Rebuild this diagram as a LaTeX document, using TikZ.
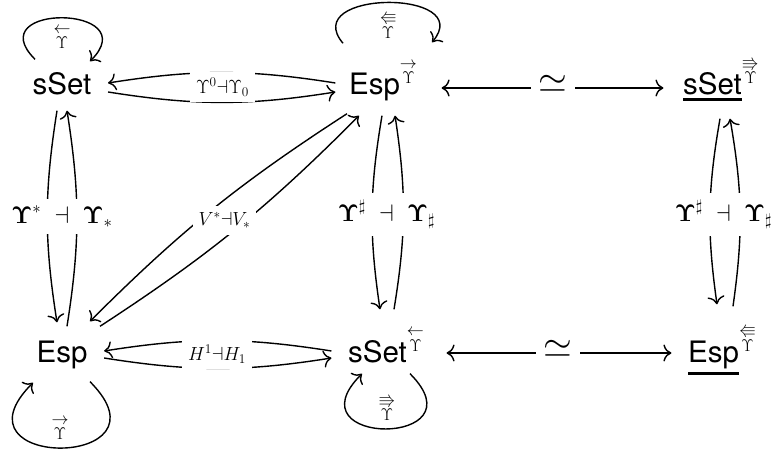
\RequirePackage{fix-cm}
\documentclass[tikz,border=0pt]{standalone}
\usepackage{amsmath,amssymb}
\usepackage{fontspec}
\setsansfont{TeX Gyre Heros}
\usetikzlibrary{arrows.meta,calc}

\newcommand{\ovup}[1]{\overset{\textstyle#1}{\Upsilon}}
\newcommand{\catsup}[1]{\raisebox{11bp}{\fontsize{17bp}{17bp}\selectfont$\ovup{#1}$}}
\newcommand{\ulcat}[2]{\setbox0\hbox{#1}\rlap{\rule[#2]{\wd0}{3bp}}\box0}

\begin{document}
\begin{tikzpicture}[x=1bp, y=-1bp, line width=1.4bp,
  >={Computer Modern Rightarrow[length=8bp,width=17bp]},
  cat/.style={font=\fontsize{29.5bp}{35bp}\sffamily, inner sep=0pt,
    text height=22bp, text depth=6bp},
  adj/.style={->, bend right=9},
  adjh/.style={->, bend right=9},
  adjd/.style={->, bend right=6},
  eqv/.style={<->},
  adjlbl/.style={fill=white, inner sep=6bp, font=\fontsize{19bp}{22bp}\selectfont},
  biglbl/.style={fill=white, inner sep=7bp, font=\fontsize{24bp}{28bp}\selectfont},
  simlbl/.style={fill=white, inner sep=8bp, font=\fontsize{37bp}{40bp}\selectfont},
  looplbl/.style={inner sep=0pt, font=\fontsize{17bp}{20bp}\selectfont}]
  \useasboundingbox (0,0) rectangle (772,450);

  %% Categories, top row
  \node[cat] (sset)  at (62,87)  {sSet};
  \node[cat] (espT)  at (383,87) {Esp\catsup{\rightarrow}};
  \node[cat] (ssetR) at (721,87) {\ulcat{sSet}{-6bp}\catsup{\Rrightarrow}};
  %% Categories, bottom row
  \node[cat] (espB)  at (62,354)  {Esp};
  \node[cat] (ssetB) at (386,354) {sSet\catsup{\leftarrow}};
  \node[cat] (espR)  at (722,354) {\ulcat{Esp}{-13bp}\catsup{\Lleftarrow}};

  %% Horizontal adjunctions
  \draw[adjh] ([xshift=-13bp,yshift=4bp]espT.west) to ([xshift=16bp,yshift=4bp]sset.east);
  \draw[adjh] ([xshift=16bp,yshift=-5bp]sset.east) to ([xshift=-13bp,yshift=-5bp]espT.west);
  \draw[adjh] ([xshift=-16bp,yshift=3bp]ssetB.west) to ([xshift=16bp,yshift=3bp]espB.east);
  \draw[adjh] ([xshift=16bp,yshift=-4bp]espB.east) to ([xshift=-16bp,yshift=-4bp]ssetB.west);

  %% Vertical adjunctions
  \draw[adj] ([xshift=5bp,yshift=13bp]espB.north) to ([xshift=5bp,yshift=-9bp]sset.south);
  \draw[adj] ([xshift=-5bp,yshift=-9bp]sset.south) to ([xshift=-5bp,yshift=17bp]espB.north);
  \draw[adj] ([xshift=8bp,yshift=30bp]ssetB.north) to ([xshift=12bp,yshift=-14bp]espT.south);
  \draw[adj] ([xshift=-1bp,yshift=-14bp]espT.south) to ([xshift=-6bp,yshift=30bp]ssetB.north);
  \draw[adj] ([xshift=11bp,yshift=33bp]espR.north) to ([xshift=9bp,yshift=-17bp]ssetR.south);
  \draw[adj] ([xshift=-1bp,yshift=-17bp]ssetR.south) to ([xshift=-5bp,yshift=35bp]espR.north);

  %% Diagonal adjunction
  \draw[adjd] ([xshift=-36bp,yshift=-12bp]espT.south) to ([xshift=28bp,yshift=18bp]espB.north);
  \draw[adjd] ([xshift=38bp,yshift=13bp]espB.north) to ([xshift=-24bp,yshift=-14bp]espT.south);

  %% Equivalences
  \draw[eqv] ([xshift=24bp,yshift=-1bp]espT.east) -- ([xshift=-19bp,yshift=-1bp]ssetR.west);
  \draw[eqv] ([xshift=22bp,yshift=1bp]ssetB.east) -- ([xshift=-16bp,yshift=1bp]espR.west);

  %% Loops
  \draw[->] ([xshift=-27bp,yshift=13bp]sset.north) to[out=135,in=45,distance=80bp]
    ([xshift=28bp,yshift=11bp]sset.north);
  \draw[->] ([xshift=-40bp,yshift=29bp]espT.north) to[out=130,in=50,distance=70bp]
    ([xshift=49bp,yshift=30bp]espT.north);
  \draw[->] ([xshift=28bp,yshift=-13bp]espB.south) to[out=-45,in=-135,distance=124bp]
    ([xshift=-29bp,yshift=-14bp]espB.south);
  \draw[->] ([xshift=24bp,yshift=-5bp]ssetB.south) to[out=-45,in=-135,distance=104bp]
    ([xshift=-24bp,yshift=-5bp]ssetB.south);

  %% Labels
  \node[adjlbl] (lblT) at ($(sset)!.5!(espT)$) {$\Upsilon^0{\dashv}\Upsilon_0$};
  \node[adjlbl] (lblB) at ([xshift=-7bp]$(espB)!.5!(ssetB)$) {$H^1{\dashv}H_1$};
  \node[adjlbl] (lblD) at ([xshift=2bp]$(espB)!.5!(espT)$) {$V^*{\dashv}V_*$};
  \node[biglbl] (lblL) at ([yshift=4bp]$(sset)!.5!(espB)$)
    {$\boldsymbol{\Upsilon}^{*}\mathrel{\;\dashv\;}\boldsymbol{\Upsilon}_{*}$};
  \node[biglbl] (lblM) at ([xshift=2bp,yshift=6bp]$(espT)!.5!(ssetB)$)
    {$\boldsymbol{\Upsilon}^{\sharp}\mathrel{\;\dashv\;}\boldsymbol{\Upsilon}_{\sharp}$};
  \node[biglbl] (lblR) at ([xshift=2bp,yshift=6bp]$(ssetR)!.5!(espR)$)
    {$\boldsymbol{\Upsilon}^{\sharp}\mathrel{\;\dashv\;}\boldsymbol{\Upsilon}_{\sharp}$};
  \node[simlbl] (simT) at ([xshift=3bp,yshift=3bp]$(espT.east)!.5!(ssetR.west)$) {$\simeq$};
  \node[simlbl] (simB) at ([xshift=2bp,yshift=5bp]$(ssetB.east)!.5!(espR.west)$) {$\simeq$};
  \node[looplbl] (lpA) at ([yshift=35bp]sset.north) {$\ovup{\leftarrow}$};
  \node[looplbl] (lpB) at ([xshift=5bp,yshift=48bp]espT.north) {$\ovup{\Lleftarrow}$};
  \node[looplbl] (lpC) at ([xshift=-2bp,yshift=-59bp]espB.south) {$\ovup{\rightarrow}$};
  \node[looplbl] (lpD) at ([xshift=1bp,yshift=-38bp]ssetB.south) {$\ovup{\Rrightarrow}$};
\end{tikzpicture}
\end{document}
